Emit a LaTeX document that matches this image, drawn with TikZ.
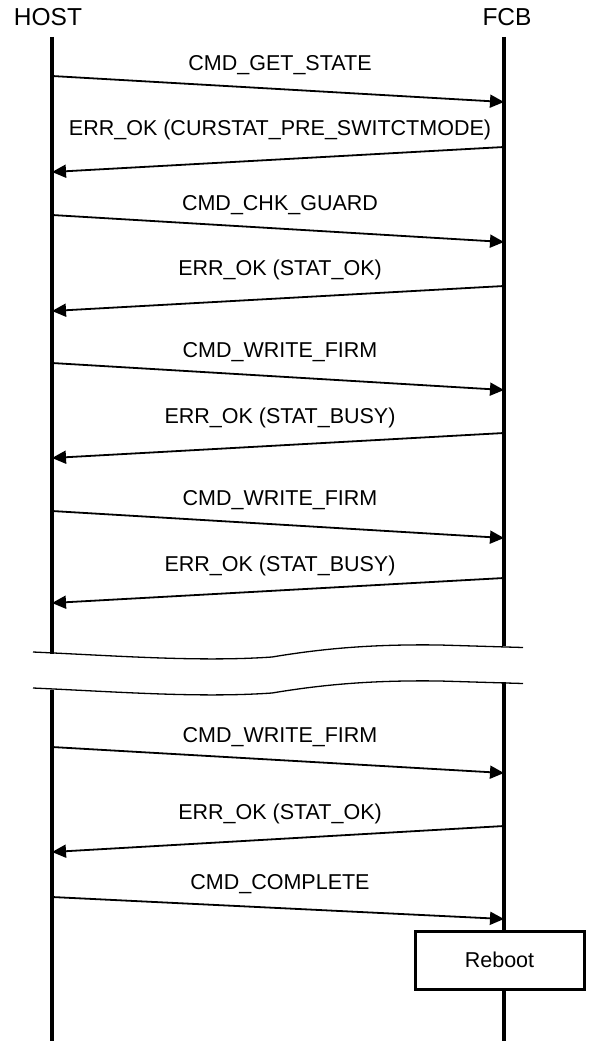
\documentclass[tikz,border=0pt]{standalone}
\usepackage{fontspec}
\setmainfont{Liberation Sans}
\usetikzlibrary{arrows.meta}

\tikzset{
    lifeline/.style={line width=4pt},
    msg/.style={line width=1.8pt, -{Triangle[length=14pt,width=13pt]}},
    msglabel/.style={font=\fontsize{21.5}{24}\selectfont},
    actor/.style={font=\fontsize{24.5}{27}\selectfont},
    breakline/.style={line width=1.3pt},
    procbox/.style={draw, line width=3pt, rectangle, minimum width=169pt, minimum height=58pt, inner sep=0pt, fill=white, font=\fontsize{21.5}{24}\selectfont}
}

\begin{document}
\begin{tikzpicture}[x=1pt, y=-1pt]
    \useasboundingbox (0,0) rectangle (589,1041);

    % Actors
    \node[actor] (host) at (48,17) {HOST};
    \node[actor] (fcb) at (507,17) {FCB};

    % Lifeline ends around the break
    \coordinate (hostTop) at (52,37);
    \coordinate (fcbTop) at (504,37);
    \coordinate (hostBrkA) at (52,654);
    \coordinate (fcbBrkA) at (504,646);
    \coordinate (hostBrkB) at (52,690);
    \coordinate (fcbBrkB) at (504,682);
    \coordinate (hostBot) at (52,1041);
    \coordinate (fcbBot) at (504,1041);

    % Lifelines
    \draw[lifeline] (hostTop) -- (hostBrkA);
    \draw[lifeline] (fcbTop) -- (fcbBrkA);
    \draw[lifeline] (hostBrkB) -- (hostBot);
    \draw[lifeline] (fcbBrkB) -- (fcbBot);

    % Break marks
    \draw[breakline] (33,652) .. controls (120,656) and (200,662) .. (272,657)
        .. controls (320,649) and (370,644) .. (440,645) -- (523,647.5);
    \draw[breakline] (33,688) .. controls (120,692) and (200,698) .. (272,693)
        .. controls (320,685) and (370,680) .. (440,681) -- (523,683.5);

    % Message end points
    \coordinate (h1) at (52,76);   \coordinate (f1) at (504,102);
    \coordinate (f2) at (504,147); \coordinate (h2) at (52,172);
    \coordinate (h3) at (52,215);  \coordinate (f3) at (504,242);
    \coordinate (f4) at (504,286); \coordinate (h4) at (52,311);
    \coordinate (h5) at (52,363);  \coordinate (f5) at (504,390);
    \coordinate (f6) at (504,433); \coordinate (h6) at (52,458);
    \coordinate (h7) at (52,511);  \coordinate (f7) at (504,538);
    \coordinate (f8) at (504,578); \coordinate (h8) at (52,603);
    \coordinate (h9) at (52,747);  \coordinate (f9) at (504,773);
    \coordinate (f10) at (504,826); \coordinate (h10) at (52,852);
    \coordinate (h11) at (52,897); \coordinate (f11) at (504,919);

    % Messages
    \draw[msg] (h1) -- (f1);
    \draw[msg] (f2) -- (h2);
    \draw[msg] (h3) -- (f3);
    \draw[msg] (f4) -- (h4);
    \draw[msg] (h5) -- (f5);
    \draw[msg] (f6) -- (h6);
    \draw[msg] (h7) -- (f7);
    \draw[msg] (f8) -- (h8);
    \draw[msg] (h9) -- (f9);
    \draw[msg] (f10) -- (h10);
    \draw[msg] (h11) -- (f11);

    % Message labels
    \node[msglabel] (l1) at (280,65) {CMD\_GET\_STATE};
    \node[msglabel] (l2) at (280,130) {ERR\_OK (CURSTAT\_PRE\_SWITCTMODE)};
    \node[msglabel] (l3) at (280,205) {CMD\_CHK\_GUARD};
    \node[msglabel] (l4) at (280,270) {ERR\_OK (STAT\_OK)};
    \node[msglabel] (l5) at (280,352) {CMD\_WRITE\_FIRM};
    \node[msglabel] (l6) at (280,418) {ERR\_OK (STAT\_BUSY)};
    \node[msglabel] (l7) at (280,500) {CMD\_WRITE\_FIRM};
    \node[msglabel] (l8) at (280,566) {ERR\_OK (STAT\_BUSY)};
    \node[msglabel] (l9) at (280,737) {CMD\_WRITE\_FIRM};
    \node[msglabel] (l10) at (280,814) {ERR\_OK (STAT\_OK)};
    \node[msglabel] (l11) at (280,884) {CMD\_COMPLETE};

    % Reboot
    \node[procbox] (reboot) at (499.5,960) {Reboot};
\end{tikzpicture}
\end{document}
